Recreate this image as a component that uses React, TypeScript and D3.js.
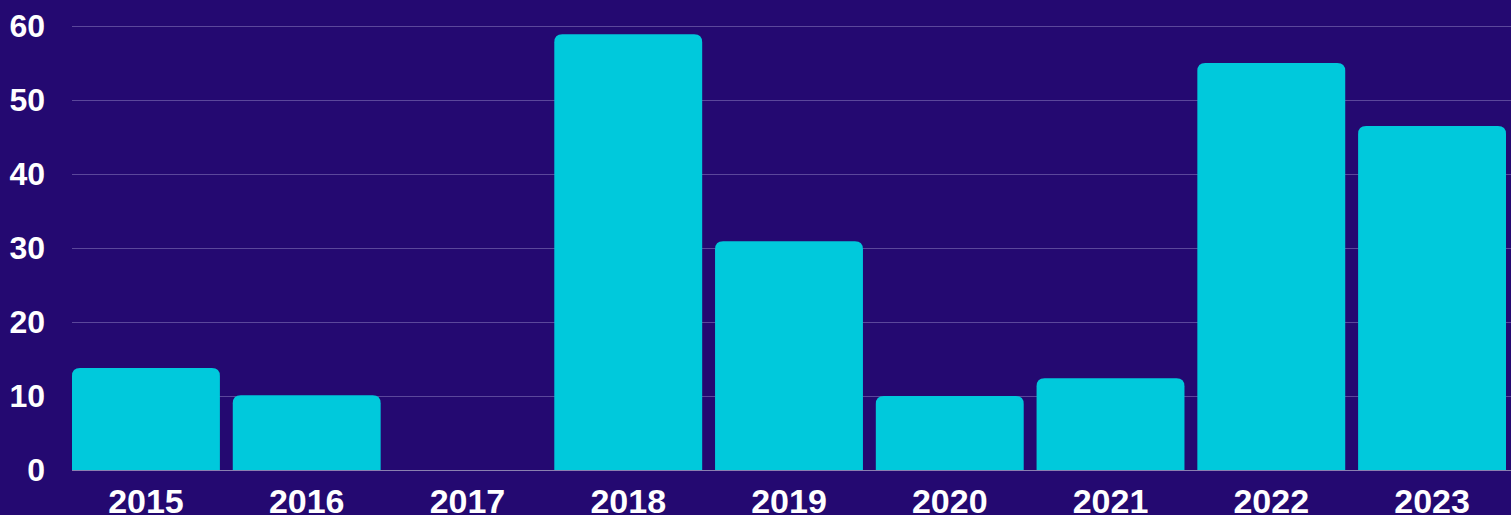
import { useEffect, useRef } from 'react';
import * as d3 from 'd3';

const years = ['2015', '2016', '2017', '2018', '2019', '2020', '2021', '2022', '2023'];
const values = [13.8, 10.1, 0, 58.9, 30.9, 10.0, 12.4, 55.0, 46.5];
const yTicks = [0, 10, 20, 30, 40, 50, 60];

const W = 1511;
const H = 515;

export default function App() {
  const svgRef = useRef<SVGSVGElement>(null);

  useEffect(() => {
    if (!svgRef.current) return;
    const svg = d3.select(svgRef.current);
    svg.selectAll('*').remove();

    const margin = { top: 26, right: 5, bottom: 45, left: 72 };
    const font = '"Liberation Sans", Arial, sans-serif';

    const x = d3.scaleBand<string>()
      .domain(years)
      .range([margin.left, W - margin.right])
      .paddingInner(0.08)
      .paddingOuter(0);

    const y = d3.scaleLinear()
      .domain([0, 60])
      .range([H - margin.bottom, margin.top]);

    svg.append('rect')
      .attr('width', W)
      .attr('height', H)
      .attr('fill', '#240971');

    // gridlines
    svg.append('g')
      .selectAll('line')
      .data(yTicks)
      .enter().append('line')
      .attr('x1', margin.left)
      .attr('x2', W)
      .attr('y1', d => y(d) + 0.5)
      .attr('y2', d => y(d) + 0.5)
      .attr('stroke', d => d === 0 ? '#8a80b0' : '#5b479b')
      .attr('stroke-width', 1);

    // y labels
    svg.append('g')
      .selectAll('text')
      .data(yTicks)
      .enter().append('text')
      .attr('x', 45)
      .attr('y', d => y(d))
      .attr('dy', '0.35em')
      .attr('text-anchor', 'end')
      .attr('font-family', font)
      .attr('font-weight', 'bold')
      .attr('font-size', '32px')
      .attr('fill', '#ffffff')
      .text(d => d);

    // bars with rounded tops
    const r = 8;
    const bw = x.bandwidth();
    svg.append('g')
      .selectAll('path')
      .data(values.map((v, i) => ({ year: years[i], v })))
      .enter().append('path')
      .attr('d', d => {
        const x0 = x(d.year)!;
        const y0 = y(d.v);
        const yb = y(0);
        const h = yb - y0;
        if (h <= 0) return '';
        const rr = Math.min(r, h, bw / 2);
        return `M${x0},${yb}V${y0 + rr}Q${x0},${y0} ${x0 + rr},${y0}H${x0 + bw - rr}Q${x0 + bw},${y0} ${x0 + bw},${y0 + rr}V${yb}Z`;
      })
      .attr('fill', '#00c9dc');

    // x labels
    svg.append('g')
      .selectAll('text')
      .data(years)
      .enter().append('text')
      .attr('x', d => x(d)! + bw / 2)
      .attr('y', 513)
      .attr('text-anchor', 'middle')
      .attr('font-family', font)
      .attr('font-weight', 'bold')
      .attr('font-size', '34px')
      .attr('fill', '#ffffff')
      .text(d => d);
  }, []);

  return (
    <div style={{ position: 'absolute', left: 0, top: 0 }}>
      <svg ref={svgRef} width={W} height={H} style={{ display: 'block' }} />
    </div>
  );
}
